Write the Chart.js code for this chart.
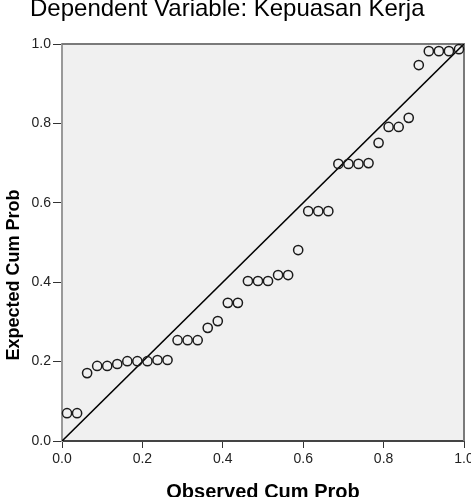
<!DOCTYPE html>
<html><head><meta charset="utf-8">
<script src="https://cdn.jsdelivr.net/npm/chart.js@4/dist/chart.umd.min.js"></script>
<style>html,body{margin:0;padding:0;background:#fff;overflow:hidden}#wrap{width:471px;height:497px;position:relative}</style>
</head><body><div id="wrap"><canvas id="c" width="471" height="497"></canvas></div>
<script>
const titleText = 'Dependent Variable: Kepuasan Kerja';
const xTitle = 'Observed Cum Prob';
const yTitle = 'Expected Cum Prob';
const tickValues = [0, 0.2, 0.4, 0.6, 0.8, 1.0];
const tickLabels = ['0.0', '0.2', '0.4', '0.6', '0.8', '1.0'];
const observedCumProb = [0.0125, 0.0375, 0.0625, 0.0875, 0.1125, 0.1375, 0.1625, 0.1875, 0.2125, 0.2375,
  0.2625, 0.2875, 0.3125, 0.3375, 0.3625, 0.3875, 0.4125, 0.4375, 0.4625, 0.4875,
  0.5125, 0.5375, 0.5625, 0.5875, 0.6125, 0.6375, 0.6625, 0.6875, 0.7125, 0.7375,
  0.7625, 0.7875, 0.8125, 0.8375, 0.8625, 0.8875, 0.9125, 0.9375, 0.9625, 0.9875];
const expectedCumProb = [0.070, 0.070, 0.171, 0.189, 0.189, 0.194, 0.201, 0.201, 0.201, 0.204,
  0.204, 0.254, 0.254, 0.254, 0.285, 0.302, 0.348, 0.348, 0.403, 0.403,
  0.403, 0.418, 0.418, 0.481, 0.579, 0.579, 0.579, 0.698, 0.698, 0.698,
  0.700, 0.751, 0.791, 0.791, 0.814, 0.947, 0.982, 0.982, 0.982, 0.987];
const referenceX = [0, 1];
const referenceY = [0, 1];

const FONT = '"Liberation Sans", Arial, sans-serif';

const decor = {
  id: 'decor',
  beforeDraw(chart) {
    const {ctx, chartArea: a} = chart;
    ctx.save();
    ctx.fillStyle = '#f0f0f0';
    ctx.fillRect(a.left, a.top, a.right - a.left, a.bottom - a.top);
    ctx.restore();
  },
  beforeDatasetsDraw(chart) {
    const {ctx, chartArea: a} = chart;
    ctx.save();
    ctx.lineWidth = 2;
    ctx.strokeStyle = '#7a7a7a';
    ctx.beginPath();
    ctx.moveTo(a.left, a.top);
    ctx.lineTo(a.right, a.top);
    ctx.lineTo(a.right, a.bottom);
    ctx.stroke();
    ctx.restore();
  },
  afterDraw(chart) {
    const {ctx} = chart;
    ctx.save();
    ctx.fillStyle = '#000';
    ctx.textBaseline = 'alphabetic';
    ctx.font = '24px ' + FONT;
    ctx.textAlign = 'left';
    ctx.fillText(titleText, 30, 16);
    ctx.font = 'bold 20px ' + FONT;
    ctx.textAlign = 'center';
    ctx.fillText(xTitle, 263, 497.5);
    ctx.translate(18.5, 275);
    ctx.rotate(-Math.PI / 2);
    ctx.font = 'bold 18px ' + FONT;
    ctx.fillText(yTitle, 0, 0);
    ctx.restore();
  }
};

const points = observedCumProb.map((x, i) => ({x: x, y: expectedCumProb[i]}));
const refLine = referenceX.map((x, i) => ({x: x, y: referenceY[i]}));

new Chart(document.getElementById('c'), {
  type: 'scatter',
  data: {
    datasets: [
      {
        type: 'line',
        data: refLine,
        borderColor: '#000',
        borderWidth: 1.6,
        pointRadius: 0,
        fill: false,
        order: 2
      },
      {
        type: 'scatter',
        data: points,
        pointRadius: 4.6,
        pointBorderWidth: 1.5,
        borderColor: '#1a1a1a',
        backgroundColor: 'rgba(0,0,0,0)',
        pointStyle: 'circle',
        clip: 8,
        order: 1
      }
    ]
  },
  options: {
    responsive: false,
    devicePixelRatio: 1,
    animation: false,
    layout: {padding: {top: 44, right: 7, bottom: 0, left: 0}},
    plugins: {legend: {display: false}, tooltip: {enabled: false}, title: {display: false}},
    scales: {
      x: {
        type: 'linear', min: 0, max: 1,
        afterBuildTicks: s => { s.ticks = tickValues.map(v => ({value: v})); },
        afterFit: s => { s.height = 56; s.paddingLeft = 0; s.paddingRight = 0; },
        ticks: {
          autoSkip: false, maxRotation: 0, padding: 3,
          color: '#222', font: {family: FONT, size: 14},
          callback: (v, i) => tickLabels[i]
        },
        grid: {drawOnChartArea: false, drawTicks: true, tickLength: 7, color: '#333', lineWidth: 1},
        border: {display: true, color: '#444', width: 2}
      },
      y: {
        type: 'linear', min: 0, max: 1,
        afterBuildTicks: s => { s.ticks = tickValues.map(v => ({value: v})); },
        afterFit: s => { s.width = 62; s.paddingTop = 0; s.paddingBottom = 0; },
        ticks: {
          autoSkip: false, padding: 2,
          color: '#222', font: {family: FONT, size: 14},
          callback: (v, i) => tickLabels[i]
        },
        grid: {drawOnChartArea: false, drawTicks: true, tickLength: 9, color: '#333', lineWidth: 1},
        border: {display: true, color: '#999', width: 2}
      }
    }
  },
  plugins: [decor]
});
</script>
</body></html>
